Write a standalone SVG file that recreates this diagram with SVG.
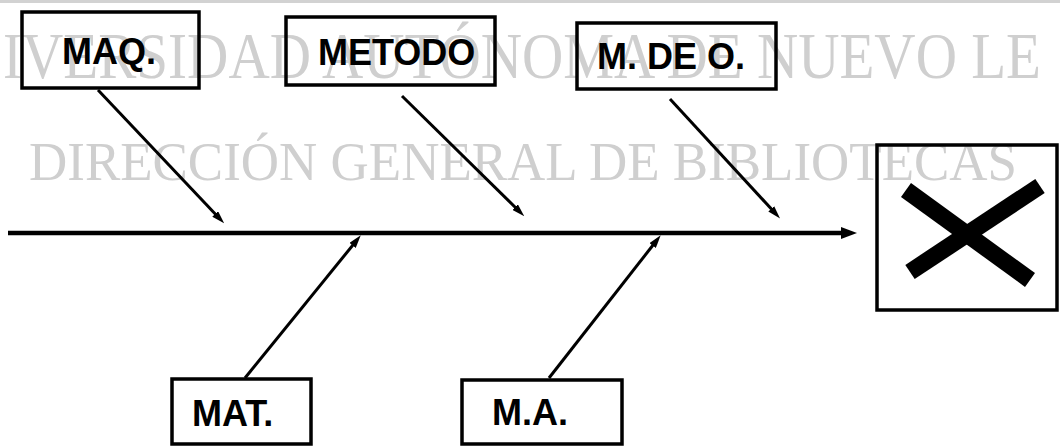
<svg xmlns="http://www.w3.org/2000/svg" width="1060" height="446" viewBox="0 0 1060 446">
<defs>
<style>
.wm{font-family:"Liberation Serif","Times New Roman",serif;fill:#cfcfcf;}
.box{fill:none;stroke:#000;stroke-width:3.5;}
.lbl{font-family:"Liberation Sans",Arial,Helvetica,sans-serif;font-weight:bold;font-size:36px;fill:#000;}
.br{stroke:#000;stroke-width:3;fill:none;}
.spine{stroke:#000;stroke-width:4.5;fill:none;}
.xm{stroke:#000;stroke-width:17;stroke-linecap:butt;}
</style>
<marker id="ah" viewBox="0 0 13 8" refX="7" refY="4" markerWidth="13" markerHeight="8" markerUnits="userSpaceOnUse" orient="auto">
<path d="M0,0 L13,4 L0,8 z" fill="#000"/>
</marker>
<marker id="ahs" viewBox="0 0 16 12" refX="8" refY="6" markerWidth="16" markerHeight="12" markerUnits="userSpaceOnUse" orient="auto">
<path d="M0,0 L16,6 L0,12 z" fill="#000"/>
</marker>
</defs>
<rect x="0" y="0" width="1060" height="446" fill="#fff"/>
<rect x="0" y="0" width="1060" height="3" fill="#d2d2d2"/>
<g id="watermark">
<text class="wm" transform="translate(3,78) scale(1,1.15)" x="0" y="0" font-size="57" textLength="1038" lengthAdjust="spacingAndGlyphs">IVERSIDAD AUTÓNOMA DE NUEVO LE</text>
<text class="wm" transform="translate(29,180) scale(1,1.05)" x="0" y="0" font-size="53" textLength="988" lengthAdjust="spacingAndGlyphs">DIRECCIÓN GENERAL DE BIBLIOTECAS</text>
</g>
<g id="connectors">
<line class="spine" x1="8" y1="233" x2="849" y2="233" marker-end="url(#ahs)"/>
<line class="br" x1="98" y1="90" x2="220" y2="219" marker-end="url(#ah)"/>
<line class="br" x1="402" y1="96" x2="520" y2="212" marker-end="url(#ah)"/>
<line class="br" x1="670" y1="99" x2="776" y2="214" marker-end="url(#ah)"/>
<line class="br" x1="245" y1="378" x2="357" y2="240" marker-end="url(#ah)"/>
<line class="br" x1="549" y1="378" x2="657" y2="240" marker-end="url(#ah)"/>
</g>
<g id="maq">
<rect class="box" x="22" y="12" width="177" height="76"/>
<text class="lbl" x="62" y="64" font-size="35">MAQ.</text>
</g>
<g id="metodo">
<rect class="box" x="286" y="17" width="209" height="68"/>
<text class="lbl" x="318" y="65" font-size="37">METODO</text>
</g>
<g id="mdeo">
<rect class="box" x="577" y="23" width="199" height="66"/>
<text class="lbl" x="597" y="69" font-size="37">M. DE O.</text>
</g>
<g id="mat">
<rect class="box" x="172" y="379" width="139" height="65"/>
<text class="lbl" x="192" y="426" font-size="35">MAT.</text>
</g>
<g id="ma">
<rect class="box" x="462" y="380" width="160" height="64"/>
<text class="lbl" x="492" y="425" font-size="35">M.A.</text>
</g>
<g id="effect">
<rect class="box" x="877" y="145" width="180" height="165"/>
<line class="xm" x1="906" y1="190" x2="1030" y2="280"/>
<line class="xm" x1="1040" y1="186" x2="910" y2="272"/>
</g>
</svg>
